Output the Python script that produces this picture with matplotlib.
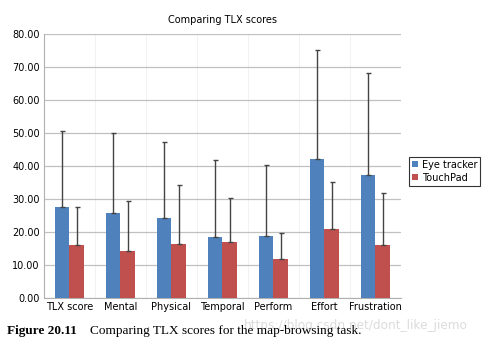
import matplotlib
matplotlib.use('Agg')

import matplotlib.pyplot as plt
import numpy as np

# data
categories = ['TLX score', 'Mental', 'Physical', 'Temporal', 'Perform', 'Effort', 'Frustration']
eye_mean = [27.7, 25.6, 24.2, 18.5, 18.7, 42.0, 37.2]
eye_top = [50.5, 50.1, 47.3, 41.9, 40.3, 75.3, 68.1]
pad_mean = [16.0, 14.3, 16.4, 16.8, 11.9, 21.0, 16.0]
pad_top = [27.5, 29.5, 34.3, 30.2, 19.8, 35.2, 31.7]
yticks = [0, 10, 20, 30, 40, 50, 60, 70, 80]

eye_sd = [t - m for t, m in zip(eye_top, eye_mean)]
pad_sd = [t - m for t, m in zip(pad_top, pad_mean)]

fig = plt.figure(figsize=(4.87, 3.44), dpi=100)
ax = fig.add_axes([0.09, 0.134, 0.733, 0.767])

x = np.arange(len(categories))
w = 0.29
ax.bar(x - w / 2, eye_mean, w, color='#4F81BD', label='Eye tracker', zorder=3)
ax.bar(x + w / 2, pad_mean, w, color='#C0504D', label='TouchPad', zorder=3)
ax.errorbar(x - w / 2, eye_mean, yerr=[[0] * len(x), eye_sd], fmt='none',
            ecolor='#444444', elinewidth=1, capsize=1.8, capthick=1, zorder=4)
ax.errorbar(x + w / 2, pad_mean, yerr=[[0] * len(x), pad_sd], fmt='none',
            ecolor='#444444', elinewidth=1, capsize=1.8, capthick=1, zorder=4)

ax.set_xlim(-0.5, len(categories) - 0.5)
ax.set_ylim(0, 80)
ax.set_yticks(yticks)
ax.set_yticklabels(['%.2f' % v for v in yticks], fontsize=7)
ax.set_xticks(x)
ax.set_xticklabels(categories, fontsize=7)
ax.tick_params(length=0, pad=3)

ax.grid(axis='y', color='#c0c0c0', linewidth=0.9, zorder=0)
for b in np.arange(0.5, len(categories) - 0.5):
    ax.axvline(b, color='#f2f2f2', linewidth=0.7, zorder=0)
for s in ['top', 'right']:
    ax.spines[s].set_visible(False)
ax.spines['left'].set_color('#b0b0b0')
ax.spines['bottom'].set_color('#b0b0b0')

ax.set_title('Comparing TLX scores', fontsize=7, pad=8)

leg = ax.legend(loc='center left', bbox_to_anchor=(1.01, 0.48), fontsize=7,
                frameon=True, fancybox=False, edgecolor='black',
                handlelength=0.6, handleheight=0.6, handletextpad=0.4,
                borderpad=0.3, labelspacing=0.3)
leg.get_frame().set_linewidth(0.8)

fig.text(0.014, 0.03, 'Figure 20.11', fontsize=9.5, fontweight='bold',
         family='Liberation Serif')
fig.text(0.185, 0.03, 'Comparing TLX scores for the map-browsing task.',
         fontsize=9.5, family='Liberation Serif')
fig.text(0.50, 0.045, 'https://blog.csdn.net/dont_like_jiemo', fontsize=8.7,
         color='#dcdcdc', zorder=0)

plt.savefig('out.png', dpi=100)
plt.close()
